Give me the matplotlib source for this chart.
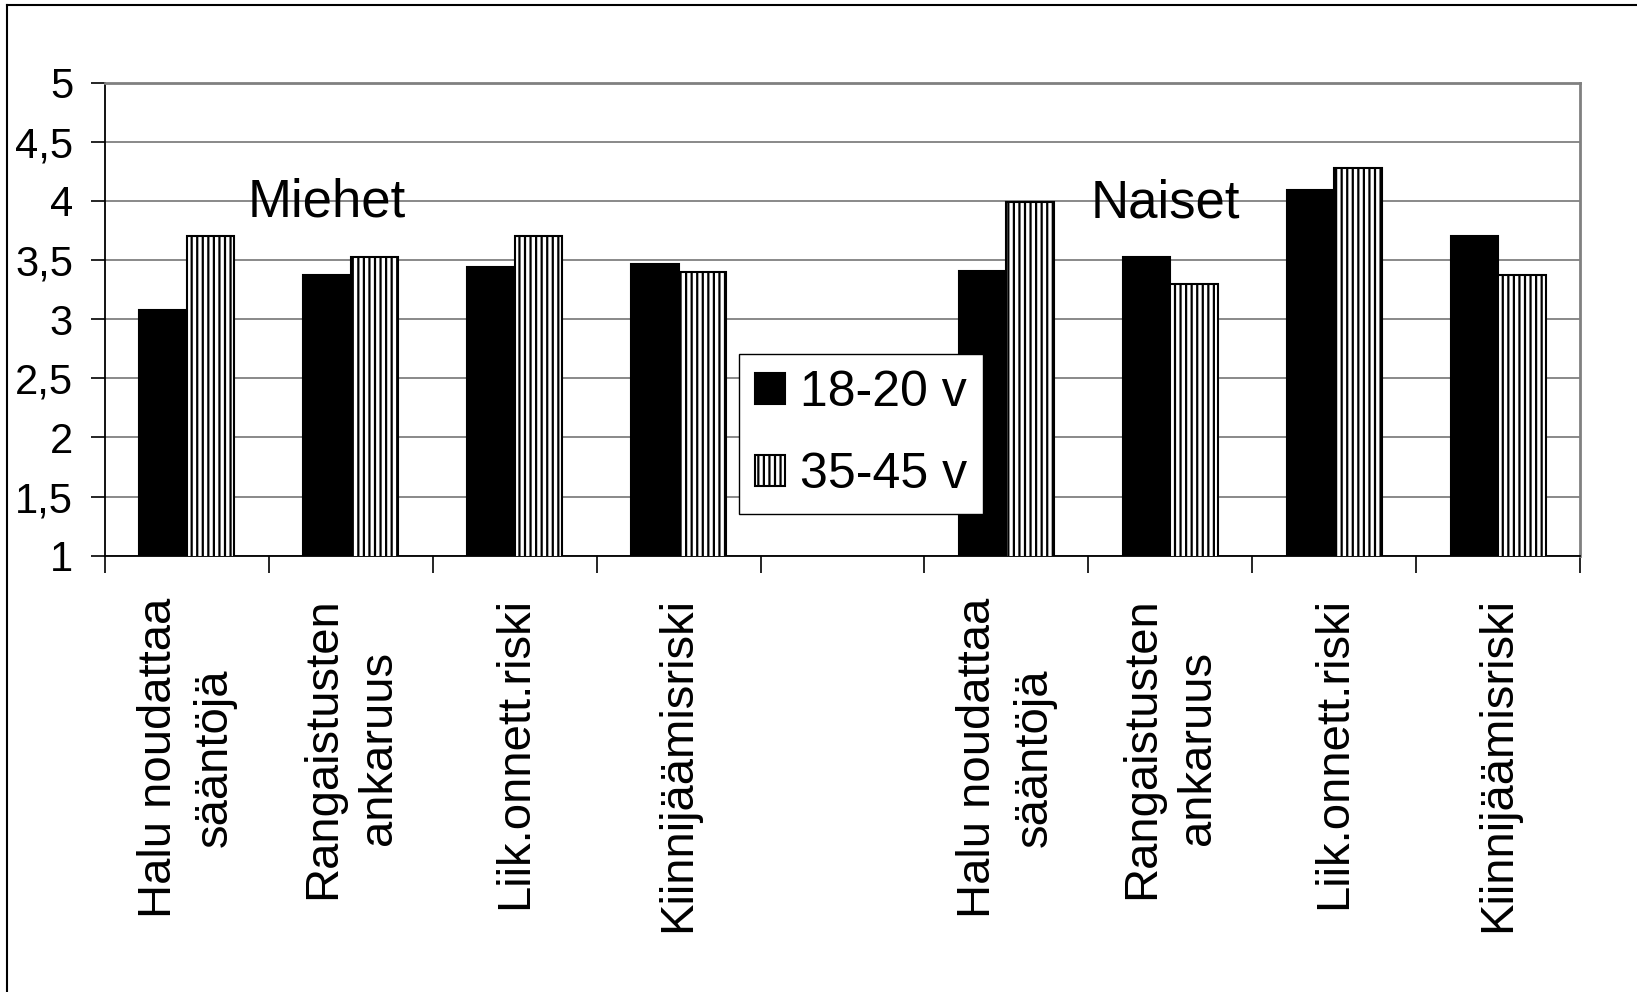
import numpy as np
import matplotlib
matplotlib.use('Agg')
import matplotlib.pyplot as plt
from matplotlib.lines import Line2D

plt.rcParams['font.family'] = ['Liberation Sans', 'DejaVu Sans']
plt.rcParams['hatch.linewidth'] = 1.6
plt.rcParams['hatch.color'] = 'black'

# survey means, men and women, two age groups
categories = ['Halu noudattaa\nsääntöjä', 'Rangaistusten\nankaruus',
              'Liik.onnett.riski', 'Kiinnijäämisriski']
groups = ['Miehet', 'Naiset']
age_groups = ['18-20 v', '35-45 v']
men_young = [3.08, 3.37, 3.44, 3.47]
men_old = [3.70, 3.53, 3.70, 3.40]
women_young = [3.41, 3.53, 4.09, 3.70]
women_old = [3.99, 3.30, 4.28, 3.37]
yticks = [1, 1.5, 2, 2.5, 3, 3.5, 4, 4.5, 5]
ytick_labels = ['1', '1,5', '2', '2,5', '3', '3,5', '4', '4,5', '5']

fig = plt.figure(figsize=(16.37, 9.92), dpi=100)
ax = fig.add_axes([105/1637, 1-555.7/992, (1580-105)/1637, (555.7-82.7)/992])

# one empty slot between the two groups
pos_men = np.arange(4)
pos_women = np.arange(5, 9)
young = men_young + women_young
old = men_old + women_old
pos = np.concatenate([pos_men, pos_women])

w = 0.29
ax.bar(pos - w/2, young, w, bottom=0, color='black', edgecolor='black',
       linewidth=1.5, label=age_groups[0], zorder=3)
ax.bar(pos + w/2, old, w, color='white', edgecolor='black', hatch='|||',
       linewidth=1.5, label=age_groups[1], zorder=3)

ax.set_ylim(1, 5)
ax.set_xlim(-0.5, 8.5)
ax.set_yticks(yticks)
ax.set_yticklabels(ytick_labels, fontsize=30)
ax.yaxis.grid(True, color='#808080', linewidth=1.3)
ax.set_axisbelow(True)

xlabels = categories + [''] + categories
ax.set_xticks(np.arange(9))
ax.set_xticklabels(xlabels, rotation=90, fontsize=34, ha='center', va='top',
                   linespacing=1.36)
ax.set_xticks(np.arange(-0.5, 9, 1), minor=True)
ax.tick_params(axis='x', which='major', length=0, pad=30)
ax.tick_params(axis='x', which='minor', length=12, width=1.2, color='black')
ax.tick_params(axis='y', length=10, width=1.2, pad=13)

for side in ['top', 'right']:
    ax.spines[side].set_color('#808080')
    ax.spines[side].set_linewidth(2)
ax.spines['left'].set_linewidth(1.3)
ax.spines['bottom'].set_linewidth(1.3)

ax.text(0.85, 3.87, groups[0], fontsize=38, ha='center', va='baseline', zorder=4)
ax.text(5.97, 3.86, groups[1], fontsize=38, ha='center', va='baseline', zorder=4)

leg = ax.legend(loc='upper left', bbox_to_anchor=(739/1637, 1-354/992),
                bbox_transform=fig.transFigure, fontsize=36, frameon=True,
                fancybox=False, edgecolor='black', framealpha=1,
                handlelength=0.6, handleheight=0.6, handletextpad=0.3,
                labelspacing=0.72, borderpad=0.32, borderaxespad=0)
leg.get_frame().set_linewidth(1.0)
leg.set_zorder(5)

# outer chart frame (left and top edges)
fig.add_artist(Line2D([7/1637, 7/1637], [0, 1-5/992], color='black', lw=1.5))
fig.add_artist(Line2D([7/1637, 1], [1-5/992, 1-5/992], color='black', lw=1.5))

fig.savefig('out.png', dpi=100)
